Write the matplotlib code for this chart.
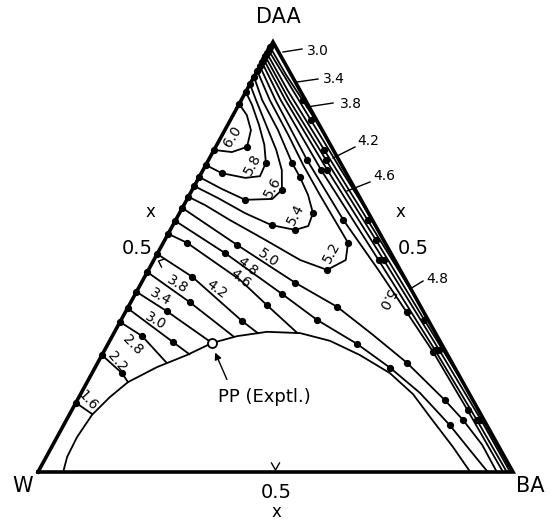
import matplotlib
matplotlib.use("Agg")
import matplotlib.pyplot as plt

# ---------------- data (mole fractions: DAA, BA) ----------------
vertex_labels = ["W", "BA", "DAA"]
tick_label = "0.5"
axis_symbol = "x"

binodal_daa = [0.000, 0.035, 0.081, 0.133, 0.174, 0.209, 0.244, 0.272, 0.300, 0.316,
               0.326, 0.323, 0.305, 0.272, 0.230, 0.181, 0.128, 0.058, 0.000]
binodal_ba = [0.053, 0.044, 0.042, 0.048, 0.065, 0.086, 0.130, 0.179, 0.218, 0.263,
              0.321, 0.392, 0.464, 0.543, 0.627, 0.700, 0.762, 0.845, 0.910]
plait_point = (0.300, 0.218)
plait_label = "PP (Exptl.)"

# lower (W-side) isolines
iso_1_6 = [(0.161, 0.000), (0.135, 0.047)]
iso_2_2 = [(0.272, 0.000), (0.230, 0.063), (0.209, 0.086)]
iso_2_8 = [(0.349, 0.000), (0.316, 0.063), (0.254, 0.145)]
iso_3_0 = [(0.381, 0.000), (0.302, 0.135), (0.274, 0.183)]
iso_3_4 = [(0.419, 0.000), (0.374, 0.086), (0.300, 0.218)]
iso_3_8 = [(0.465, 0.000), (0.395, 0.124), (0.315, 0.256)]
iso_4_2 = [(0.507, 0.000), (0.454, 0.100), (0.351, 0.256), (0.323, 0.303)]
iso_4_6 = [(0.554, 0.000), (0.533, 0.050), (0.447, 0.204), (0.388, 0.290), (0.324, 0.385)]
iso_4_8 = [(0.584, 0.000), (0.509, 0.142), (0.414, 0.309), (0.354, 0.412), (0.298, 0.524),
           (0.242, 0.622), (0.184, 0.713), (0.109, 0.813), (0.051, 0.884), (0.000, 0.947)]
iso_5_0 = [(0.614, 0.000), (0.528, 0.158), (0.440, 0.324), (0.384, 0.440), (0.321, 0.544),
           (0.254, 0.651), (0.167, 0.774), (0.121, 0.835), (0.063, 0.904), (0.000, 0.966)]

# closed-off loops near the DAA-W side
loop_5_2 = [(0.933, 0.000), (0.865, 0.060), (0.784, 0.139), (0.714, 0.205), (0.644, 0.275),
            (0.574, 0.347), (0.533, 0.389), (0.493, 0.404), (0.470, 0.376), (0.493, 0.308),
            (0.540, 0.211), (0.586, 0.114), (0.621, 0.044), (0.640, 0.000)]
loop_5_4 = [(0.919, 0.000), (0.865, 0.044), (0.795, 0.112), (0.719, 0.179), (0.686, 0.212),
            (0.644, 0.250), (0.602, 0.281), (0.572, 0.286), (0.563, 0.263), (0.574, 0.208),
            (0.602, 0.138), (0.637, 0.064), (0.665, 0.000)]
loop_5_6 = [(0.902, 0.000), (0.865, 0.031), (0.807, 0.081), (0.749, 0.131), (0.702, 0.166),
            (0.656, 0.189), (0.635, 0.179), (0.633, 0.123), (0.658, 0.062), (0.686, 0.000)]
loop_5_8 = [(0.884, 0.000), (0.854, 0.028), (0.807, 0.066), (0.761, 0.100), (0.719, 0.124),
            (0.688, 0.127), (0.684, 0.098), (0.695, 0.043), (0.714, 0.000)]
loop_6_0 = [(0.856, 0.000), (0.830, 0.029), (0.795, 0.055), (0.756, 0.066), (0.744, 0.040),
            (0.749, 0.000)]

# upper isolines running along the DAA-BA side
band_3_0 = [(0.988, 0.000), (0.923, 0.066), (0.865, 0.129), (0.784, 0.216)]
band_3_4 = [(0.981, 0.000), (0.912, 0.072), (0.819, 0.169), (0.702, 0.291), (0.586, 0.414)]
band_3_8 = [(0.974, 0.000), (0.888, 0.086), (0.749, 0.232), (0.586, 0.404), (0.400, 0.600)]
band_4_2 = [(0.967, 0.000), (0.865, 0.101), (0.726, 0.247), (0.540, 0.444), (0.354, 0.638),
            (0.191, 0.809)]
band_4_6 = [(0.960, 0.000), (0.865, 0.093), (0.702, 0.262), (0.493, 0.484), (0.284, 0.704),
            (0.121, 0.873), (0.000, 0.994)]
band_4_8 = [(0.953, 0.000), (0.865, 0.083), (0.702, 0.249), (0.493, 0.473), (0.284, 0.695),
            (0.121, 0.864), (0.000, 0.987)]
band_5_0 = [(0.944, 0.000), (0.865, 0.072), (0.726, 0.207), (0.586, 0.353), (0.470, 0.484),
            (0.372, 0.592), (0.279, 0.694), (0.144, 0.833), (0.000, 0.979)]

# (name, value label, points, indices of measured points)
contours = [
    ("iso_1_6", "1.6", iso_1_6, [0]),
    ("iso_2_2", "2.2", iso_2_2, [0, 1]),
    ("iso_2_8", "2.8", iso_2_8, [0, 1]),
    ("iso_3_0", "3.0", iso_3_0, [0, 1]),
    ("iso_3_4", "3.4", iso_3_4, [0, 1]),
    ("iso_3_8", "3.8", iso_3_8, [0, 1]),
    ("iso_4_2", "4.2", iso_4_2, [0, 1, 2]),
    ("iso_4_6", "4.6", iso_4_6, [0, 1, 3]),
    ("iso_4_8", "4.8", iso_4_8, [0, 1, 2, 3, 4, 5, 7]),
    ("iso_5_0", "5.0", iso_5_0, [0, 1, 2, 3, 5, 6, 7]),
    ("loop_5_2", "5.2", loop_5_2, [0, 6, 8, 13]),
    ("loop_5_4", "5.4", loop_5_4, [0, 3, 4, 6, 8, 9, 12]),
    ("loop_5_6", "5.6", loop_5_6, [0, 5, 7, 9]),
    ("loop_5_8", "5.8", loop_5_8, [0, 4, 7, 9 - 1]),
    ("loop_6_0", "6.0", loop_6_0, [0, 3, 5]),
    ("band_3_0", "3.0", band_3_0, [0, 2]),
    ("band_3_4", "3.4", band_3_4, [0, 2]),
    ("band_3_8", "3.8", band_3_8, [0, 2, 3]),
    ("band_4_2", "4.2", band_4_2, [0, 2, 3, 4]),
    ("band_4_6", "4.6", band_4_6, [0, 2, 3, 4, 5]),
    ("band_4_8", "4.8", band_4_8, [0, 2, 3, 4, 5]),
    ("band_5_0", "5.0", band_5_0, [0, 2, 3, 5, 6, 7]),
]

# ---------------- layout ----------------
W_PX, BA_PX, DAA_PX = (38.0, 472.0), (513.0, 472.0), (273.0, 42.0)


def to_xy(daa, ba):
    w = 1.0 - daa - ba
    x = w * W_PX[0] + ba * BA_PX[0] + daa * DAA_PX[0]
    y = w * W_PX[1] + ba * BA_PX[1] + daa * DAA_PX[1]
    return x, y


# inline label placement (x, y, rotation)
inline_labels = {
    "iso_1_6": (88, 401, -48), "iso_2_2": (117, 362, -50), "iso_2_8": (133, 345, -45),
    "iso_3_0": (155, 321, -30), "iso_3_4": (160, 297, -30), "iso_3_8": (177, 284, -32),
    "iso_4_2": (217, 289, -36), "iso_4_6": (240, 279, -38), "iso_4_8": (247, 267, -38),
    "iso_5_0": (268, 258, -35), "loop_5_2": (332, 252, 62), "loop_5_4": (296, 214, 62),
    "loop_5_6": (273, 187, 62), "loop_5_8": (253, 164, 62), "loop_6_0": (232, 137, 58),
    "band_5_0": (385, 300, -118),
}
# labels with leader lines: text position, leader start, leader end
leader_labels = {
    "band_3_0": ((318, 51), (302, 49), (283, 52)),
    "band_3_4": ((334, 79), (318, 79), (297, 82)),
    "band_3_8": ((351, 104), (333, 103), (307, 107)),
    "band_4_2": ((368, 141), (355, 147), (333, 158)),
    "band_4_6": ((384, 176), (370, 182), (347, 191)),
    "band_4_8": ((437, 279), (423, 281), (410, 289)),
}

fig = plt.figure(figsize=(5.5, 5.2), dpi=100)
ax = fig.add_axes([0, 0, 1, 1])
ax.set_xlim(0, 550)
ax.set_ylim(520, 0)
ax.axis("off")

# triangle
tri_x = [W_PX[0], BA_PX[0], DAA_PX[0], W_PX[0]]
tri_y = [W_PX[1], BA_PX[1], DAA_PX[1], W_PX[1]]
ax.plot(tri_x, tri_y, color="black", lw=2.6, solid_joinstyle="miter", zorder=5)

# binodal
bx, by = zip(*[to_xy(d, b) for d, b in zip(binodal_daa, binodal_ba)])
ax.plot(bx, by, color="black", lw=1.3, zorder=3)

# contours
for name, val, pts, dots in contours:
    xs, ys = zip(*[to_xy(d, b) for d, b in pts])
    ax.plot(xs, ys, color="black", lw=1.3, solid_joinstyle="round", zorder=3)
    ax.plot([xs[i] for i in dots], [ys[i] for i in dots], "o", color="black",
            ms=4.2, zorder=4)
    if name in inline_labels:
        lx, ly, rot = inline_labels[name]
        ax.text(lx, ly, val, fontsize=10, rotation=rot, ha="center", va="center",
                rotation_mode="anchor", zorder=6)
    if name in leader_labels:
        (tx, ty), (sx, sy), (ex, ey) = leader_labels[name]
        ax.plot([sx, ex], [sy, ey], color="black", lw=1.0, zorder=6)
        ax.text(tx, ty, val, fontsize=10, ha="center", va="center", zorder=6)

# plait point
px, py = to_xy(*plait_point)
ax.plot(px, py, "o", ms=6.5, mfc="white", mec="black", mew=1.3, zorder=7)
ax.annotate("", xy=(px + 2, py + 7), xytext=(228, 382),
            arrowprops=dict(arrowstyle="-|>", color="black", lw=1.0,
                            mutation_scale=10), zorder=7)
ax.text(218, 397, plait_label, fontsize=13, ha="left", va="center")

# vertex labels
ax.text(278, 17, vertex_labels[2], fontsize=15, ha="center", va="center")
ax.text(23, 486, vertex_labels[0], fontsize=15, ha="center", va="center")
ax.text(530, 486, vertex_labels[1], fontsize=15, ha="center", va="center")

# 0.5 marks and axis symbols
bx5, by5 = to_xy(0.0, 0.5)
ax.plot([bx5 - 4, bx5, bx5 + 4], [by5 - 9, by5 - 2, by5 - 9], color="black", lw=1.0)
ax.text(bx5 + 1, 492, tick_label, fontsize=14, ha="center", va="center")
ax.text(bx5 + 1, 512, axis_symbol, fontsize=12, ha="center", va="center")

lx5, ly5 = to_xy(0.5, 0.0)
ax.plot([lx5 + 9, lx5 + 3, lx5 + 6], [ly5 + 2, ly5 + 4, ly5 + 10], color="black", lw=1.0)
ax.text(137, 249, tick_label, fontsize=14, ha="center", va="center")
ax.text(150, 212, axis_symbol, fontsize=12, ha="center", va="center")

ax.text(413, 249, tick_label, fontsize=14, ha="center", va="center")
ax.text(400, 212, axis_symbol, fontsize=12, ha="center", va="center")

fig.savefig("out.png", dpi=100)
